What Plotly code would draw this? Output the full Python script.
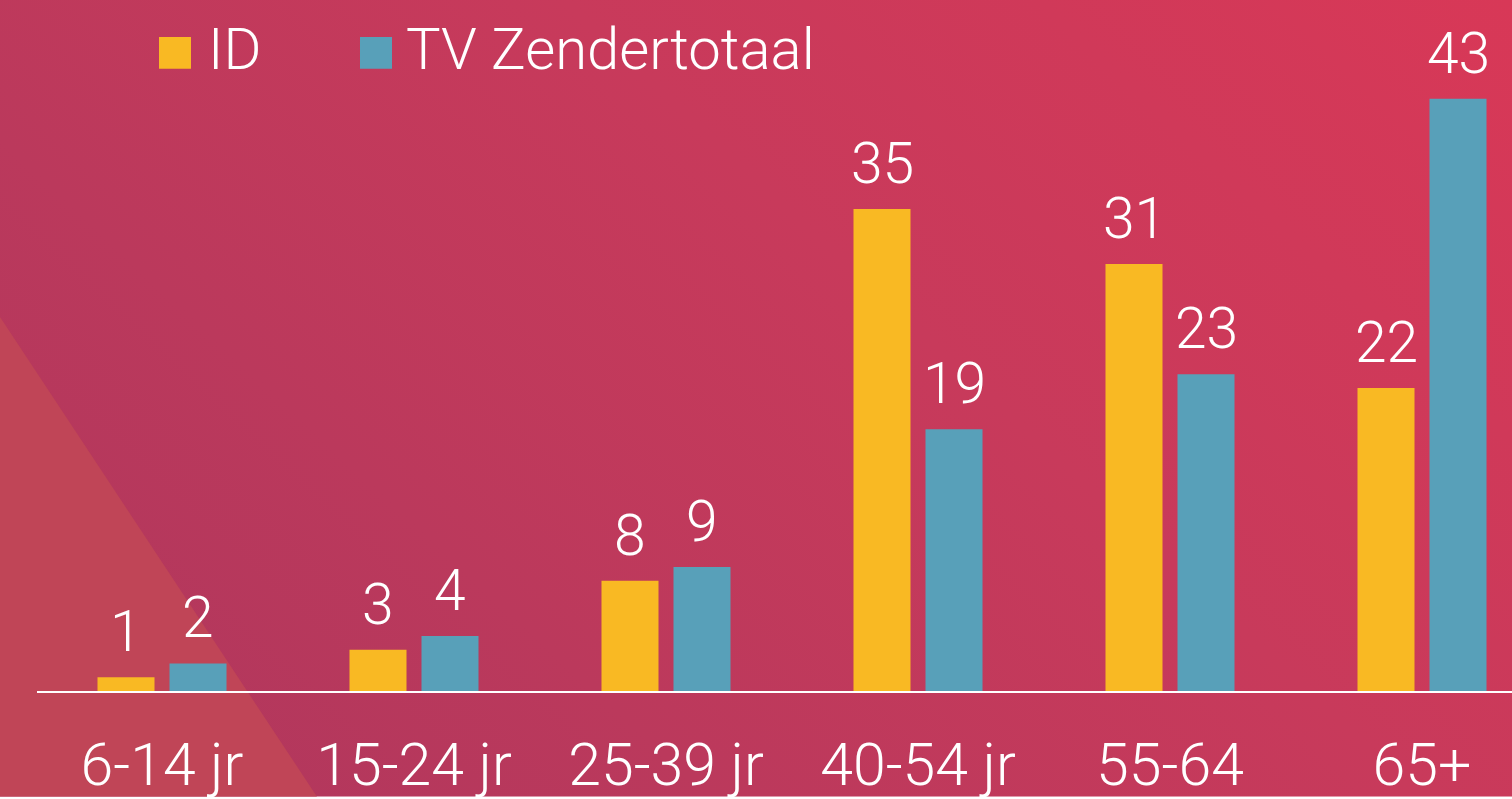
import base64
import plotly.graph_objects as go

categories = ["6-14 jr", "15-24 jr", "25-39 jr", "40-54 jr", "55-64", "65+"]
id_values = [1, 3, 8, 35, 31, 22]
tv_values = [2, 4, 9, 19, 23, 43]
series_names = ["ID", "TV Zendertotaal"]

YELLOW = "#F9B923"
BLUE = "#58A0B9"
FONT = "Roboto"

W, H = 1512, 799
ML, MR, MT, MB = 37, 0, 0, 106
PW, PH = W - ML - MR, H - MT - MB
STEP = 252.0
C0 = 162.0


def px_x(px):
    return (px - ML) / PW


def px_y(py):
    return (MT + PH - py) / PH


svg = f"""<svg xmlns='http://www.w3.org/2000/svg' width='{W}' height='{H}' viewBox='0 0 {W} {H}'>
<defs><linearGradient id='g' x1='0' y1='{H}' x2='1100' y2='-383' gradientUnits='userSpaceOnUse'>
<stop offset='0' stop-color='#AE365D'/>
<stop offset='0.3' stop-color='#BB395C'/>
<stop offset='0.6' stop-color='#C83A5B'/>
<stop offset='1' stop-color='#D83857'/>
</linearGradient></defs>
<rect x='0' y='0' width='{W}' height='{H}' fill='url(#g)'/>
<polygon points='0,318 0,{H} 317,{H}' fill='#C04557'/>
</svg>"""
src = "data:image/svg+xml;base64," + base64.b64encode(svg.encode()).decode()

fig = go.Figure()
fig.add_trace(go.Bar(
    x=categories, y=id_values, name=series_names[0], marker_color=YELLOW,
    marker_line_width=0, showlegend=False,
))
fig.add_trace(go.Bar(
    x=categories, y=tv_values, name=series_names[1], marker_color=BLUE,
    marker_line_width=0, showlegend=False,
))

annotations = []
label_font = dict(family=FONT, size=57, color="white", weight=300)
for vals, dx in ((id_values, -36), (tv_values, 36)):
    for c, v in zip(categories, vals):
        annotations.append(dict(x=c, y=v, xref="x", yref="y", text=str(v), showarrow=False,
                                xanchor="center", yanchor="bottom", xshift=dx, yshift=10,
                                font=label_font))

# custom legend (large squares)
legend_items = [(series_names[0], YELLOW, 159, 210), (series_names[1], BLUE, 360, 408)]
shapes = []
for name, color, sx, tx in legend_items:
    shapes.append(dict(type="rect", xref="paper", yref="paper",
                       x0=px_x(sx), x1=px_x(sx + 32), y0=px_y(69), y1=px_y(37),
                       fillcolor=color, line_width=0, layer="above"))
    annotations.append(dict(text=name, xref="paper", yref="paper", x=px_x(tx - 4), y=px_y(49),
                            xanchor="left", yanchor="middle", showarrow=False,
                            font=dict(family=FONT, size=58, color="white", weight=300)))

fig.update_layout(
    width=W, height=H,
    margin=dict(l=ML, r=MR, t=MT, b=MB, pad=0),
    barmode="group", bargap=0.4286, bargroupgap=0.208,
    paper_bgcolor="rgba(0,0,0,0)", plot_bgcolor="rgba(0,0,0,0)",
    images=[dict(source=src, xref="paper", yref="paper", x=px_x(0), y=px_y(0),
                 sizex=W / PW, sizey=H / PH, xanchor="left", yanchor="top",
                 sizing="stretch", layer="below")],
    shapes=shapes, annotations=annotations,
    xaxis=dict(range=[-(C0 - ML) / STEP, (W - C0) / STEP], showline=True, linecolor="white",
               linewidth=2, showgrid=False, zeroline=False, ticks="",
               tickfont=dict(family=FONT, size=59, color="white", weight=300),
               ticklabelstandoff=21, fixedrange=True),
    yaxis=dict(range=[0, 50.17], visible=False, showgrid=False, zeroline=False, fixedrange=True),
    showlegend=False,
)

fig.write_html("out.html", config={"displayModeBar": False},
               post_script="document.body.style.margin='0';document.body.style.overflow='hidden';")
